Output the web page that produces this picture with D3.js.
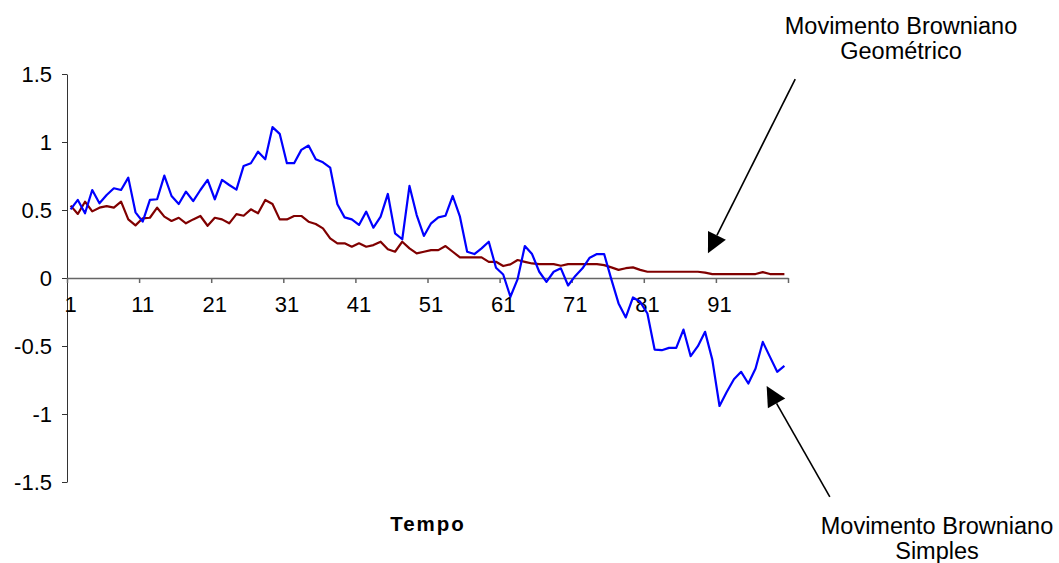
<!DOCTYPE html>
<html>
<head>
<meta charset="utf-8">
<script src="https://cdn.jsdelivr.net/npm/d3@7"></script>
<style>
  body { margin: 0; background: #fff; }
  svg { display: block; font-family: "Liberation Sans", Arial, sans-serif; }
  .axis text { font-size: 22px; fill: #000; }
</style>
</head>
<body>
<svg id="chart"></svg>
<script>
// time steps 1..100
const steps = d3.range(1, 101);

// Movimento Browniano Simples (blue)
const simples = [
  0.505, 0.574, 0.476, 0.647, 0.549, 0.610, 0.660, 0.647, 0.738, 0.483,
  0.414, 0.574, 0.579, 0.753, 0.603, 0.544, 0.635, 0.566, 0.647, 0.721,
  0.579, 0.721, 0.684, 0.650, 0.824, 0.844, 0.929, 0.873, 1.109, 1.060,
  0.844, 0.844, 0.942, 0.974, 0.873, 0.851, 0.812, 0.542, 0.446, 0.431,
  0.390, 0.488, 0.370, 0.451, 0.618, 0.328, 0.285, 0.677, 0.463, 0.309,
  0.402, 0.446, 0.458, 0.603, 0.451, 0.193, 0.176, 0.218, 0.267, 0.075,
  0.026, -0.138, -0.008, 0.235, 0.176, 0.046, -0.028, 0.046, 0.071, -0.055,
  0.015, 0.071, 0.149, 0.176, 0.176, -0.010, -0.187, -0.290, -0.143, -0.175,
  -0.261, -0.526, -0.531, -0.514, -0.514, -0.379, -0.575, -0.501, -0.396, -0.600,
  -0.941, -0.838, -0.744, -0.690, -0.776, -0.666, -0.470, -0.580, -0.690, -0.646
];

// Movimento Browniano Geométrico (dark red)
const geometrico = [
  0.532, 0.471, 0.561, 0.490, 0.517, 0.529, 0.517, 0.561, 0.431, 0.387,
  0.439, 0.443, 0.517, 0.451, 0.419, 0.443, 0.402, 0.431, 0.456, 0.384,
  0.443, 0.431, 0.402, 0.470, 0.458, 0.505, 0.476, 0.574, 0.544, 0.431,
  0.431, 0.456, 0.456, 0.414, 0.397, 0.365, 0.292, 0.255, 0.255, 0.230,
  0.255, 0.230, 0.242, 0.267, 0.211, 0.193, 0.267, 0.218, 0.181, 0.193,
  0.205, 0.205, 0.235, 0.193, 0.152, 0.152, 0.152, 0.152, 0.119, 0.119,
  0.088, 0.100, 0.132, 0.119, 0.107, 0.102, 0.102, 0.102, 0.090, 0.102,
  0.102, 0.102, 0.102, 0.102, 0.095, 0.078, 0.060, 0.072, 0.078, 0.060,
  0.046, 0.046, 0.046, 0.046, 0.046, 0.046, 0.046, 0.046, 0.040, 0.029,
  0.029, 0.029, 0.029, 0.029, 0.029, 0.029, 0.043, 0.029, 0.029, 0.029
];

const yTicks = [-1.5, -1, -0.5, 0, 0.5, 1, 1.5];
const xLabels = [1, 11, 21, 31, 41, 51, 61, 71, 81, 91];
const xTickMarks = d3.range(0, 101, 10);

// arrows in data units: tail / tip as [step position, value]
const arrows = [
  { tail: [101.0, 1.463], tip: [88.9, 0.182] },
  { tail: [105.8, -1.61], tip: [97.04, -0.794] }
];
const notes = [
  { lines: ["Movimento Browniano", "Geométrico"], x: 901, y: 34 },
  { lines: ["Movimento Browniano", "Simples"], x: 937, y: 534 }
];

const width = 1059, height = 563;
const plot = { left: 67, right: 788, top: 74, bottom: 482 };

const svg = d3.select("#chart").attr("width", width).attr("height", height);

const x = d3.scaleBand().domain(steps).range([plot.left, plot.right]).paddingInner(0).paddingOuter(0);
const xLin = d3.scaleLinear().domain([0, 100]).range([plot.left, plot.right]);
const y = d3.scaleLinear().domain([-1.5, 1.5]).range([plot.bottom, plot.top]);

// y axis
svg.append("g")
    .attr("class", "axis")
    .attr("transform", "translate(" + plot.left + ",0)")
    .call(d3.axisLeft(y).tickValues(yTicks).tickSize(5).tickSizeOuter(0).tickPadding(10)
        .tickFormat(d => String(d)))
    .call(g => g.selectAll("line, path").attr("stroke", "#333"));

// x axis: tick marks at category boundaries, labels at category centres
svg.append("g")
    .attr("class", "axis")
    .attr("transform", "translate(0," + y(0) + ")")
    .call(d3.axisBottom(xLin).tickValues(xTickMarks).tickSize(5).tickSizeOuter(0).tickFormat(""))
    .call(g => g.selectAll("line, path").attr("stroke", "#666").attr("stroke-width", 1.5));

svg.append("g")
    .attr("class", "axis")
    .attr("transform", "translate(0," + y(0) + ")")
    .call(d3.axisBottom(x).tickValues(xLabels).tickSize(0).tickPadding(18))
    .call(g => g.select(".domain").remove());

const line = d3.line()
    .x((d, i) => x(steps[i]) + x.bandwidth() / 2)
    .y(d => y(d));

svg.append("path")
    .datum(geometrico)
    .attr("fill", "none")
    .attr("stroke", "#800000")
    .attr("stroke-width", 2.2)
    .attr("stroke-linejoin", "round")
    .attr("d", line);

svg.append("path")
    .datum(simples)
    .attr("fill", "none")
    .attr("stroke", "#0000ff")
    .attr("stroke-width", 2.2)
    .attr("stroke-linejoin", "round")
    .attr("d", line);

// axis title
svg.append("text")
    .attr("x", 428)
    .attr("y", 531)
    .attr("text-anchor", "middle")
    .attr("font-size", 20.5)
    .attr("font-weight", "bold")
    .attr("letter-spacing", 2)
    .text("Tempo");

// annotation arrows
arrows.forEach(a => {
    const x0 = xLin(a.tail[0]), y0 = y(a.tail[1]);
    const x1 = xLin(a.tip[0]), y1 = y(a.tip[1]);
    const len = Math.hypot(x1 - x0, y1 - y0);
    const ux = (x1 - x0) / len, uy = (y1 - y0) / len;
    const bx = x1 - ux * 20, by = y1 - uy * 20;
    svg.append("line")
        .attr("x1", x0).attr("y1", y0)
        .attr("x2", bx).attr("y2", by)
        .attr("stroke", "#000")
        .attr("stroke-width", 1.6);
    svg.append("path")
        .attr("d", "M" + x1 + "," + y1
            + "L" + (bx - uy * 10) + "," + (by + ux * 10)
            + "L" + (bx + uy * 10) + "," + (by - ux * 10) + "Z")
        .attr("fill", "#000");
});

notes.forEach(n => {
    const t = svg.append("text")
        .attr("text-anchor", "middle")
        .attr("font-size", 23.5)
        .attr("fill", "#000");
    n.lines.forEach((s, i) => {
        t.append("tspan").attr("x", n.x).attr("y", n.y + i * 25).text(s);
    });
});
</script>
</body>
</html>
